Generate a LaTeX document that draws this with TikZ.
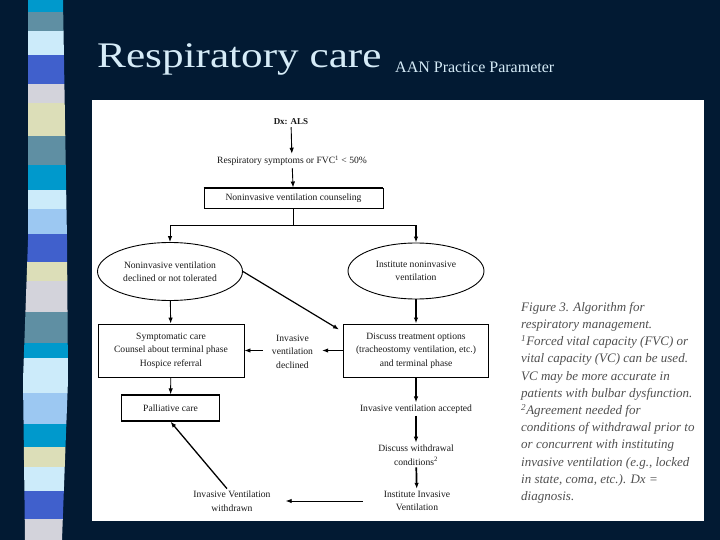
\documentclass[tikz,border=0pt]{standalone}
\usepackage{fontspec}
\setmainfont{Liberation Serif}
\usetikzlibrary{shapes.geometric,arrows.meta}

\definecolor{navy}{HTML}{021A33}
\definecolor{titleblue}{HTML}{D6ECF8}
\definecolor{capgray}{HTML}{505050}
\definecolor{stripeA}{HTML}{0099CC}
\definecolor{stripeB}{HTML}{5F8FA3}
\definecolor{stripeC}{HTML}{CCEBFA}
\definecolor{stripeD}{HTML}{4060CC}
\definecolor{stripeE}{HTML}{D3D3DB}
\definecolor{stripeF}{HTML}{DCDEB8}
\definecolor{stripeG}{HTML}{9CC8F2}

\begin{document}
\begin{tikzpicture}[x=1pt,y=-1pt,
  txt/.style={font=\fontsize{9.6}{13.5}\selectfont, align=center, inner sep=2pt, text=black!90},
  box/.style={txt, draw, line width=0.9pt, inner sep=0pt, minimum height=53pt},
  oval/.style={txt, draw, ellipse, line width=0.9pt, inner sep=0pt},
  arr/.style={-{Latex[length=6pt,width=4.5pt]}, line width=0.9pt},
  thickarr/.style={arr, line width=1.7pt}]

\fill[navy] (0,0) rectangle (720,540);

% striped band on the left
\begin{scope}
\clip (28,0) -- (28,240) -- (23,380) -- (25,540) -- (62,540) -- (68,380) -- (67,240) -- (63,0) -- cycle;
\foreach \ya/\yb/\col in {0/12/stripeA, 12/31/stripeB, 31/55/stripeC, 55/84/stripeD,
  84/103/stripeE, 103/136/stripeF, 136/165/stripeB, 165/190/stripeA, 190/209/stripeC,
  209/234/stripeG, 234/262/stripeD, 262/281/stripeF, 281/312/stripeE, 312/343/stripeB,
  343/358/stripeA, 358/393/stripeC, 393/424/stripeG, 424/447/stripeA, 447/467/stripeF,
  467/491/stripeC, 491/519/stripeD, 519/540/stripeE}
  \fill[\col] (20,\ya) rectangle (75,\yb);
\end{scope}

\node[anchor=base west, inner sep=0pt, text=titleblue, font=\fontsize{36}{36}\selectfont, xscale=1.2] (title) at (97,68) {Respiratory care};
\node[anchor=base west, inner sep=0pt, text=titleblue, font=\fontsize{16}{16}\selectfont] (subtitle) at (395,73) {AAN Practice Parameter};

\fill[white] (92,100) rectangle (704,521);

% top of the algorithm
\node[txt, font=\bfseries\fontsize{9}{11}\selectfont] (dx) at (291,122) {Dx: ALS};
\node[txt] (symp) at (292,161) {Respiratory symptoms or FVC\textsuperscript{1} < 50\%};
\node[box, minimum width=179pt, minimum height=20pt] (counsel) at (293.5,198) {Noninvasive ventilation counseling};
\draw[line width=2pt] (counsel.north west) -- (counsel.north east);
\draw[arr] (dx) -- (symp);
\draw[arr] (symp) -- (counsel);

\coordinate (split) at (293.5,225.5);
\node[oval, minimum width=145pt, minimum height=58pt] (lell) at (170,271.5) {Noninvasive ventilation\\declined or not tolerated};
\node[oval, minimum width=136pt, minimum height=56pt] (rell) at (416,271) {Institute noninvasive\\ventilation};
\draw[line width=1pt] (counsel) -- (split);
\draw[line width=0.9pt] (lell.north |- split) -- (rell.north |- split);
\draw[arr] (lell.north |- split) -- (lell);
\draw[thickarr] (rell.north |- split) -- (rell);

% middle row
\node[box, minimum width=146pt] (lbox) at (171,350.5) {Symptomatic care\\Counsel about terminal phase\\Hospice referral};
\node[box, minimum width=145pt] (rbox) at (416,350.5) {Discuss treatment options\\(tracheostomy ventilation, etc.)\\and terminal phase};
\node[txt, inner xsep=9pt] (declined) at (292.5,351.5) {Invasive\\ventilation\\declined};
\draw[arr] (lell) -- (lbox);
\draw[thickarr] (rell) -- (rbox);
\draw[arr, line width=1.2pt] (lell.east) -- ([xshift=-4pt,yshift=-6pt]rbox.north west);
\draw[arr] (rbox.west) -- (declined.east |- rbox.west);
\draw[arr] (declined.west |- lbox.east) -- (lbox.east);

% lower part
\node[box, minimum width=98pt, minimum height=26pt, line width=1.3pt] (palli) at (170.5,408) {Palliative care};
\node[txt] (accepted) at (416,409) {Invasive ventilation accepted};
\node[txt] (discuss) at (416,455) {Discuss withdrawal\\conditions\textsuperscript{2}};
\node[txt] (institute) at (417,501) {Institute Invasive\\Ventilation};
\node[txt] (withdrawn) at (232,501) {Invasive Ventilation\\withdrawn};
\draw[arr] (lbox) -- (palli);
\draw[thickarr] (rbox) -- (accepted);
\draw[thickarr] (accepted) -- (discuss);
\draw[thickarr] (discuss) -- (institute);
\draw[arr, shorten <=19pt, shorten >=13pt] (institute) -- (withdrawn);
\draw[arr, line width=1.3pt] ([xshift=-5pt]withdrawn.north) -- (palli.south);

\node[anchor=north west, align=left, inner sep=0pt, text=capgray, font=\itshape\fontsize{13}{17.2}\selectfont] (caption) at (521,302) {Figure 3. Algorithm for\\respiratory management.\\\textsuperscript{1}Forced vital capacity (FVC) or\\vital capacity (VC) can be used.\\VC may be more accurate in\\patients with bulbar dysfunction.\\\textsuperscript{2}Agreement needed for\\conditions of withdrawal prior to\\or concurrent with instituting\\invasive ventilation (e.g., locked\\in state, coma, etc.). Dx =\\diagnosis.};
\end{tikzpicture}
\end{document}
